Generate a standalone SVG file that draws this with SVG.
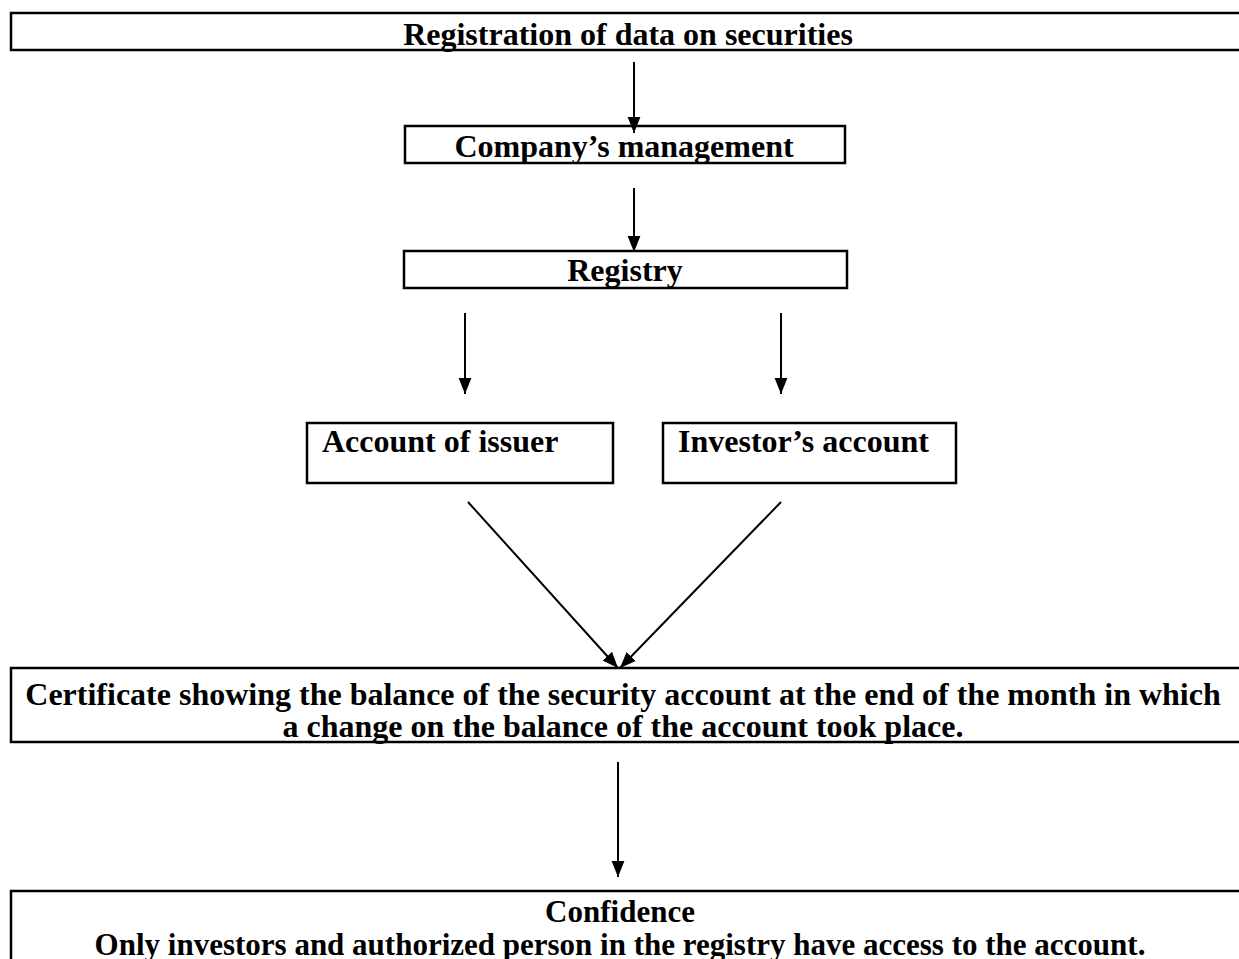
<svg xmlns="http://www.w3.org/2000/svg" width="1239" height="959" viewBox="0 0 1239 959">
<style>
.box{fill:#fff;stroke:#000;stroke-width:2.5}
.t{font-family:"Liberation Serif","Times New Roman",serif;font-weight:bold;font-size:32px;fill:#000}
.s{font-size:31px}
.c{text-anchor:middle}
.ln{stroke:#000;stroke-width:2;fill:none}
</style>
<defs>
<marker id="ah" viewBox="0 0 10 10" refX="10" refY="5" markerWidth="8" markerHeight="8" orient="auto" markerUnits="strokeWidth">
<path d="M0,1 L10,5 L0,9 z" fill="#000"/>
</marker>
</defs>
<rect width="1239" height="959" fill="#fff"/>
<g id="n1">
<rect class="box" x="11" y="13" width="1240" height="37"/>
<text class="t c" x="628" y="45">Registration of data on securities</text>
</g>
<g id="n2">
<rect class="box" x="405" y="126" width="440" height="37"/>
<text class="t c" x="624" y="157">Company’s management</text>
</g>
<g id="n3">
<rect class="box" x="404" y="251" width="443" height="37"/>
<text class="t c" x="625" y="281">Registry</text>
</g>
<g id="n4">
<rect class="box" x="307" y="423" width="306" height="60"/>
<text class="t" x="322" y="452">Account of issuer</text>
</g>
<g id="n5">
<rect class="box" x="663" y="423" width="293" height="60"/>
<text class="t" x="678" y="452">Investor’s account</text>
</g>
<g id="n6">
<rect class="box" x="11" y="668" width="1240" height="74"/>
<text class="t c" x="623" y="705">Certificate showing the balance of the security account at the end of the month in which</text>
<text class="t c" x="623" y="737">a change on the balance of the account took place.</text>
</g>
<g id="n7">
<rect class="box" x="11" y="891" width="1240" height="90"/>
<text class="t s c" x="620" y="922">Confidence</text>
<text class="t s c" x="620" y="955">Only investors and authorized person in the registry have access to the account.</text>
</g>
<g id="connectors">
<line class="ln" x1="634" y1="62" x2="634" y2="133" marker-end="url(#ah)"/>
<line class="ln" x1="634" y1="188" x2="634" y2="252" marker-end="url(#ah)"/>
<line class="ln" x1="465" y1="313" x2="465" y2="394" marker-end="url(#ah)"/>
<line class="ln" x1="781" y1="313" x2="781" y2="394" marker-end="url(#ah)"/>
<line class="ln" x1="468" y1="502" x2="618" y2="668" marker-end="url(#ah)"/>
<line class="ln" x1="781" y1="502" x2="620" y2="668" marker-end="url(#ah)"/>
<line class="ln" x1="618" y1="762" x2="618" y2="877" marker-end="url(#ah)"/>
</g>
</svg>
